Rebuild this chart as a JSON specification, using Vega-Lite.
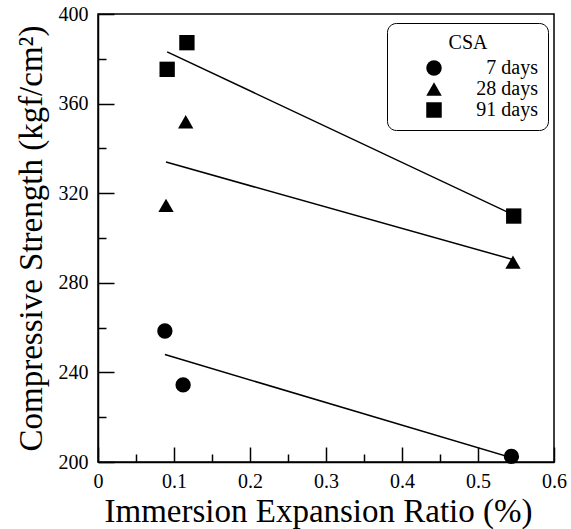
{
  "$schema": "https://vega.github.io/schema/vega-lite/v6.json",
  "width": 456,
  "height": 448,
  "autosize": {"type": "none"},
  "padding": {"left": 98, "top": 14, "right": 17, "bottom": 67},
  "background": "white",
  "config": {
    "font": "Liberation Serif",
    "view": {"stroke": "black", "strokeWidth": 1.5},
    "axis": {
      "grid": false,
      "domainColor": "black",
      "domainWidth": 1.5,
      "tickColor": "black",
      "tickWidth": 1.5,
      "labelColor": "black",
      "titleColor": "black",
      "labelFont": "Liberation Serif",
      "titleFont": "Liberation Serif",
      "labelFontSize": 20,
      "titleFontSize": 33,
      "titleFontWeight": "normal"
    },
    "legend": {
      "labelFont": "Liberation Serif",
      "titleFont": "Liberation Serif"
    }
  },
  "data": {
    "values": [
      {"series": "7 days", "ratio": 0.088, "strength": 258.5},
      {"series": "7 days", "ratio": 0.112, "strength": 234.4},
      {"series": "7 days", "ratio": 0.544, "strength": 202.5},
      {"series": "28 days", "ratio": 0.0895, "strength": 314.6},
      {"series": "28 days", "ratio": 0.1154, "strength": 351.9},
      {"series": "28 days", "ratio": 0.546, "strength": 289.2},
      {"series": "91 days", "ratio": 0.091, "strength": 375.3},
      {"series": "91 days", "ratio": 0.117, "strength": 387.2},
      {"series": "91 days", "ratio": 0.547, "strength": 309.8}
    ]
  },
  "layer": [
    {
      "mark": {"type": "point", "filled": true, "fill": "black", "opacity": 1, "strokeWidth": 0, "size": 235},
      "encoding": {
        "x": {
          "field": "ratio", "type": "quantitative",
          "scale": {"domain": [0, 0.6], "nice": false, "zero": false},
          "axis": {
            "orient": "bottom",
            "title": "Immersion Expansion Ratio (%)",
            "values": [0, 0.1, 0.2, 0.3, 0.4, 0.5, 0.6],
            "format": "~g",
            "tickSize": -15,
            "labelPadding": 40,
            "labelBaseline": "alphabetic",
            "labelFont": "Liberation Serif",
            "labelFlush": false,
            "labelOverlap": false,
            "titleX": 220,
            "titleY": 59,
            "titleBaseline": "alphabetic"
          }
        },
        "y": {
          "field": "strength", "type": "quantitative",
          "scale": {"domain": [200, 400], "nice": false, "zero": false},
          "axis": {
            "orient": "left",
            "title": "Compressive Strength (kgf/cm²)",
            "values": [200, 240, 280, 320, 360, 400],
            "tickSize": -16,
            "labelPadding": 26,
            "labelFont": "Liberation Serif",
            "labelFlush": false,
            "labelOverlap": false,
            "titleX": -57,
            "titleBaseline": "alphabetic"
          }
        },
        "shape": {
          "field": "series", "type": "nominal",
          "scale": {"domain": ["7 days", "28 days", "91 days"], "range": ["circle", "triangle-up", "square"]},
          "legend": {
            "title": "CSA",
            "orient": "none",
            "legendX": 289,
            "legendY": 9,
            "strokeColor": "black",
            "cornerRadius": 9,
            "padding": 10,
            "fillColor": "white",
            "titleFontSize": 20,
            "titleFontWeight": "normal",
            "titleColor": "black",
            "titleAnchor": "middle",
            "titleAlign": "center",
            "titlePadding": 5,
            "labelFontSize": 20,
            "labelColor": "black",
            "labelAlign": "right",
            "labelOffset": 94,
            "symbolOffset": 27,
            "symbolFillColor": "black",
            "symbolStrokeWidth": 0,
            "symbolSize": 240,
            "rowPadding": 1
          }
        }
      }
    },
    {
      "transform": [{"regression": "strength", "on": "ratio", "groupby": ["series"]}],
      "mark": {"type": "line", "color": "black", "strokeWidth": 1.5},
      "encoding": {
        "x": {
          "field": "ratio", "type": "quantitative",
          "axis": {
            "orient": "bottom",
            "values": [0.05, 0.15, 0.25, 0.35, 0.45, 0.55],
            "labels": false,
            "domain": false,
            "title": null,
            "tickSize": -8
          }
        },
        "y": {
          "field": "strength", "type": "quantitative",
          "axis": {
            "orient": "left",
            "values": [220, 260, 300, 340, 380],
            "labels": false,
            "domain": false,
            "title": null,
            "tickSize": -8
          }
        },
        "detail": {"field": "series"}
      }
    }
  ],
  "resolve": {"axis": {"x": "independent", "y": "independent"}}
}
